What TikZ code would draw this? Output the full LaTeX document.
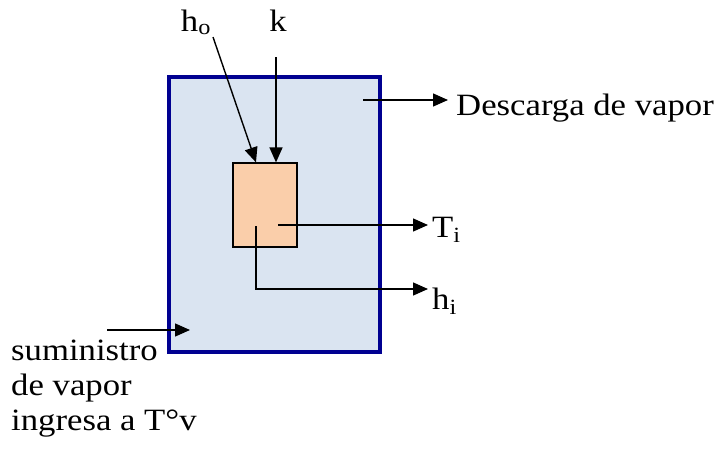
\documentclass[tikz,border=0pt]{standalone}
\usepackage{fontspec}
\setmainfont{Liberation Serif}
\newfontfamily\widefont[FakeStretch=1.12]{Liberation Serif}
\usepackage{tikz}
\usetikzlibrary{arrows.meta, positioning}
\definecolor{vesselblue}{RGB}{0,0,145}
\definecolor{vesselfill}{RGB}{218,228,241}
\definecolor{bodyorange}{RGB}{250,206,170}

\begin{document}
\begin{tikzpicture}[
    x=1pt, y=-1pt,
    lbl/.style={inner sep=0pt, font=\widefont\fontsize{31}{35}\selectfont},
    arrow/.style={-{Triangle[length=15pt,width=13pt]}, line width=1.4pt}
]
\useasboundingbox (0,0) rectangle (724,450);
\node[draw=vesselblue, line width=4.5pt, fill=vesselfill, minimum width=211pt, minimum height=275pt, inner sep=0pt] (vessel) at (274.5,214.5) {};
\node[draw, line width=1.2pt, fill=bodyorange, minimum width=64pt, minimum height=84pt, inner sep=0pt] (body) at (265,205) {};

\node[lbl, anchor=base] (ho) at (196,31) {h\textsubscript{o}};
\node[lbl, anchor=base] (k) at (278,31) {k};
\node[lbl, anchor=base west] (descarga) at (456,115) {Descarga de vapor};
\node[lbl, anchor=base west] (ti) at (432,237) {T\textsubscript{i}};
\node[lbl, anchor=base west] (hi) at (432,309) {h\textsubscript{i}};
\node[lbl, anchor=base west, align=left] (sumin) at (11,430) {suministro\\de vapor\\ingresa a T°v};

\coordinate (hotail) at (213,37);
\coordinate (ktail) at (276,57);
\coordinate (desctail) at (363,100);
\coordinate (titail) at (278,225);
\coordinate (hitail) at (256,226);
\coordinate (sumtail) at (107,330);

\draw[arrow] (hotail) -- (body.north west -| 256,0);
\draw[arrow] (ktail) -- (ktail |- body.north);
\draw[arrow] (desctail) -- ([xshift=-8pt]desctail -| descarga.west);
\draw[arrow] (titail) -- ([xshift=-4pt]titail -| ti.west);
\draw[arrow] (hitail) |- ([xshift=-4pt]hi.west |- 0,289);
\draw[arrow] (sumtail) -- (190,330);
\end{tikzpicture}
\end{document}
